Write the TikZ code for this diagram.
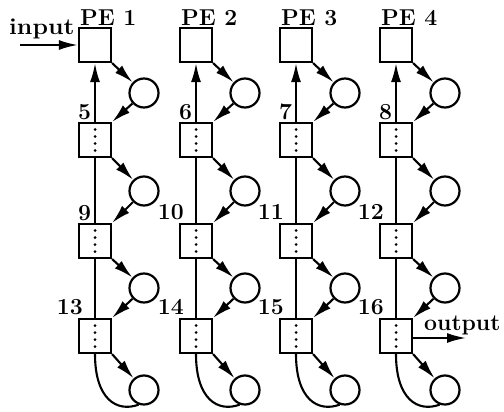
\documentclass[tikz,border=0pt]{standalone}
\usetikzlibrary{arrows.meta}
\begin{document}
\begin{tikzpicture}[x=1pt,y=-1pt,
  pebox/.style={draw,line width=2.2pt,minimum width=32pt,minimum height=34pt,inner sep=0pt},
  loopc/.style={draw,circle,line width=2.2pt,minimum size=29pt,inner sep=0pt},
  conn/.style={line width=2.1pt},
  arr/.style={conn,-{Latex[length=19pt,width=10pt]}},
  lbl/.style={font=\fontsize{23}{26}\selectfont\bfseries,inner sep=0pt}]
\useasboundingbox (0,0) rectangle (504,412);
\foreach \c/\x in {1/95,2/196,3/296,4/396} {
  \node[pebox] (b\c0) at (\x,45) {};
  \node[pebox] (b\c1) at (\x,140) {};
  \node[pebox] (b\c2) at (\x,241) {};
  \node[pebox] (b\c3) at (\x,336) {};
  \node[loopc] (c\c0) at (\x+49,93) {};
  \node[loopc] (c\c1) at (\x+49,191) {};
  \node[loopc] (c\c2) at (\x+49,288) {};
  \node[loopc] (c\c3) at (\x+49,390) {};
  \node[lbl,anchor=south west] (pe\c) at ([xshift=2pt,yshift=1pt]b\c0.north west) {PE \c};
  \foreach \r in {1,2,3} {
    \pgfmathtruncatemacro{\n}{4*\r+\c}
    \ifnum\n<10
      \node[lbl,anchor=south west] (n\c\r) at ([xshift=0pt,yshift=2pt]b\c\r.north west) {\n};
    \else
      \node[lbl,anchor=south east] (n\c\r) at ([xshift=5pt,yshift=3pt]b\c\r.north west) {\n};
    \fi
    \foreach \d in {-10.5,-3.5,3.5,10.5}
      \fill ([yshift=\d pt]b\c\r.center) circle (1.5pt);
  }
  \draw[arr] (b\c0.south east) -- (c\c0);
  \draw[arr] (c\c0) -- (b\c1.north east);
  \draw[arr] (b\c1.south east) -- (c\c1);
  \draw[arr] (c\c1) -- (b\c2.north east);
  \draw[arr] (b\c2.south east) -- (c\c2);
  \draw[arr] (c\c2) -- (b\c3.north east);
  \draw[arr] (b\c3.south east) -- (c\c3);
  \draw[arr] (b\c1.north) -- (b\c0.south);
  \draw[conn] (b\c1.south) -- (b\c2.north);
  \draw[conn] (b\c2.south) -- (b\c3.north);
  \draw[conn] (b\c3.south) .. controls +(0,45) and +(-22,8) .. (c\c3.250);
}
\node[lbl,anchor=base west] (inlbl) at (9,35) {\scalebox{1.08}[1]{input}};
\coordinate (ins) at (20,45);
\draw[arr] (ins) -- (b10.west);
\node[lbl,anchor=base west] (outlbl) at (424,330) {output};
\coordinate (oute) at (466,338);
\draw[arr] (b43.east |- oute) -- (oute);
\end{tikzpicture}
\end{document}
